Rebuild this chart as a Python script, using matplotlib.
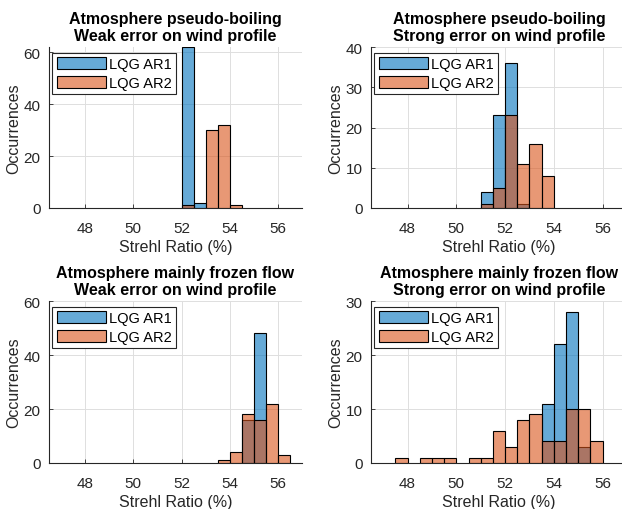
import matplotlib.pyplot as plt
from matplotlib.patches import Patch

plt.rcParams['font.family'] = ['Liberation Sans', 'DejaVu Sans']

# histogram data (bin left edges, bin width 0.5)
bin_w = 0.5

pb_weak_ar1_x = [52.0, 52.5]
pb_weak_ar1_n = [62, 2]
pb_weak_ar2_x = [52.0, 53.0, 53.5, 54.0]
pb_weak_ar2_n = [1, 30, 32, 1]

pb_strong_ar1_x = [51.0, 51.5, 52.0, 52.5]
pb_strong_ar1_n = [4, 23, 36, 1]
pb_strong_ar2_x = [51.0, 51.5, 52.0, 52.5, 53.0, 53.5]
pb_strong_ar2_n = [1, 5, 23, 11, 16, 8]

ff_weak_ar1_x = [54.5, 55.0]
ff_weak_ar1_n = [16, 48]
ff_weak_ar2_x = [53.5, 54.0, 54.5, 55.0, 55.5, 56.0]
ff_weak_ar2_n = [1, 4, 18, 16, 22, 3]

ff_strong_ar1_x = [53.5, 54.0, 54.5, 55.0]
ff_strong_ar1_n = [11, 22, 28, 3]
ff_strong_ar2_x = [47.5, 48.5, 49.0, 49.5, 50.5, 51.0, 51.5, 52.0, 52.5,
                   53.0, 53.5, 54.0, 54.5, 55.0, 55.5]
ff_strong_ar2_n = [1, 1, 1, 1, 1, 1, 6, 3, 8, 9, 4, 4, 10, 10, 4]

titles = ["Atmosphere pseudo-boiling\nWeak error on wind profile",
          "Atmosphere pseudo-boiling\nStrong error on wind profile",
          "Atmosphere mainly frozen flow\nWeak error on wind profile",
          "Atmosphere mainly frozen flow\nStrong error on wind profile"]
ylims = [62, 40, 60, 30]
yticks = [[0, 20, 40, 60], [0, 10, 20, 30, 40], [0, 20, 40, 60], [0, 10, 20, 30]]
xticks = [48, 50, 52, 54, 56]

c1 = (0.0, 0.447, 0.741, 0.6)
c2 = (0.85, 0.325, 0.098, 0.6)
dark = '#262626'

fig = plt.figure(figsize=(6.22, 5.10), dpi=100)
W, H = 622, 510
boxes = [(49, 48, 302, 209), (371, 48, 627, 209),
         (49, 302, 302, 464), (371, 302, 627, 464)]
data = [(pb_weak_ar1_x, pb_weak_ar1_n, pb_weak_ar2_x, pb_weak_ar2_n),
        (pb_strong_ar1_x, pb_strong_ar1_n, pb_strong_ar2_x, pb_strong_ar2_n),
        (ff_weak_ar1_x, ff_weak_ar1_n, ff_weak_ar2_x, ff_weak_ar2_n),
        (ff_strong_ar1_x, ff_strong_ar1_n, ff_strong_ar2_x, ff_strong_ar2_n)]

for i in range(4):
    l, t, r, b = boxes[i]
    ax = fig.add_axes([l / W, (H - b) / H, (r - l) / W, (b - t) / H])
    x1, n1, x2, n2 = data[i]
    ax.bar(x1, n1, width=bin_w, align='edge', facecolor=c1,
           edgecolor='black', linewidth=0.8, zorder=3)
    ax.bar(x2, n2, width=bin_w, align='edge', facecolor=c2,
           edgecolor='black', linewidth=0.8, zorder=4)
    ax.set_xlim(46.5, 57)
    ax.set_ylim(0, ylims[i])
    ax.set_xticks(xticks)
    ax.set_yticks(yticks[i])
    ax.grid(True, color='#dedede', linewidth=0.7, zorder=0)
    ax.set_axisbelow(True)
    for s in ['top', 'right']:
        ax.spines[s].set_visible(False)
    for s in ['left', 'bottom']:
        ax.spines[s].set_color(dark)
        ax.spines[s].set_linewidth(0.8)
    ax.tick_params(direction='in', length=3, width=0.6, colors=dark,
                   labelsize=11, pad=6)
    ax.tick_params(axis='x', pad=9.5)
    ax.set_xlabel("Strehl Ratio (%)", fontsize=11.5, color=dark, labelpad=2.5)
    ax.set_ylabel("Occurrences", fontsize=11.5, color=dark, labelpad=2)
    ax.set_title(titles[i], fontsize=11.5, fontweight='bold', pad=5)
    handles = [Patch(facecolor=c1, edgecolor='black', linewidth=0.8),
               Patch(facecolor=c2, edgecolor='black', linewidth=0.8)]
    aw, ah = r - l, b - t
    leg = ax.legend(handles, ["LQG AR1", "LQG AR2"], loc='upper left',
                    bbox_to_anchor=(3.4 / aw, 1 - 5.5 / ah),
                    fontsize=10.5, handlelength=3.4, handleheight=0.95,
                    labelspacing=0.3, handletextpad=0.15, borderpad=0.3,
                    borderaxespad=0, fancybox=False, framealpha=1)
    leg.get_frame().set_edgecolor(dark)
    leg.get_frame().set_linewidth(0.8)

fig.savefig('out.png', dpi=100, facecolor='white')
